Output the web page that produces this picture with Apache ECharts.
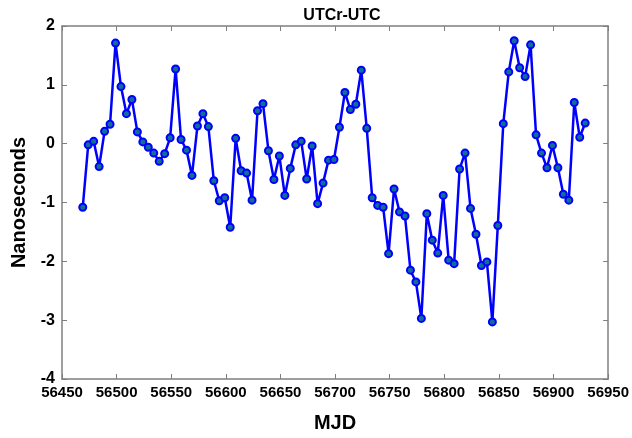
<!DOCTYPE html>
<html>
<head>
<meta charset="utf-8">
<style>
  html, body { margin: 0; padding: 0; background: #fff; }
  #chart { width: 632px; height: 438px; }
</style>
<script src="https://cdn.jsdelivr.net/npm/echarts@6/dist/echarts.min.js"></script>
</head>
<body>
<div id="chart"></div>
<script>
// MJD of each measurement
const mjd = [
  56469, 56474, 56479, 56484, 56489, 56494, 56499, 56504, 56509, 56514,
  56519, 56524, 56529, 56534, 56539, 56544, 56549, 56554, 56559, 56564,
  56569, 56574, 56579, 56584, 56589, 56594, 56599, 56604, 56609, 56614,
  56619, 56624, 56629, 56634, 56639, 56644, 56649, 56654, 56659, 56664,
  56669, 56674, 56679, 56684, 56689, 56694, 56699, 56704, 56709, 56714,
  56719, 56724, 56729, 56734, 56739, 56744, 56749, 56754, 56759, 56764,
  56769, 56774, 56779, 56784, 56789, 56794, 56799, 56804, 56809, 56814,
  56819, 56824, 56829, 56834, 56839, 56844, 56849, 56854, 56859, 56864,
  56869, 56874, 56879, 56884, 56889, 56894, 56899, 56904, 56909, 56914,
  56919, 56924, 56929
];

// UTCr-UTC in ns
const utcrMinusUtc = [
  -1.08, -0.02, 0.04, -0.39, 0.21, 0.33, 1.71, 0.97, 0.51, 0.75,
  0.20, 0.03, -0.06, -0.16, -0.30, -0.17, 0.10, 1.27, 0.07, -0.11,
  -0.54, 0.30, 0.51, 0.29, -0.63, -0.97, -0.92, -1.42, 0.09, -0.46,
  -0.50, -0.96, 0.56, 0.68, -0.12, -0.61, -0.21, -0.88, -0.42, -0.02,
  0.04, -0.60, -0.04, -1.02, -0.67, -0.28, -0.27, 0.28, 0.87, 0.58,
  0.67, 1.25, 0.26, -0.92, -1.05, -1.08, -1.87, -0.77, -1.16, -1.23,
  -2.15, -2.35, -2.97, -1.19, -1.64, -1.86, -0.88, -1.98, -2.04, -0.43,
  -0.16, -1.10, -1.54, -2.07, -2.01, -3.03, -1.39, 0.34, 1.22, 1.75,
  1.29, 1.14, 1.68, 0.15, -0.16, -0.41, -0.03, -0.41, -0.86, -0.96,
  0.70, 0.11, 0.35
];

const xMin = 56450, xMax = 56950, xStep = 50;
const yMin = -4, yMax = 2, yStep = 1;

const points = mjd.map((d, i) => [d, utcrMinusUtc[i]]);

const frame = { onZero: false, lineStyle: { color: '#7f7f7f', width: 1.5 } };
const tickIn = { show: true, inside: true, length: 5, lineStyle: { color: '#7f7f7f', width: 1 } };
const font = 'Liberation Sans, Arial, sans-serif';

const chart = echarts.init(document.getElementById('chart'), null, { renderer: 'canvas' });
chart.setOption({
  animation: false,
  backgroundColor: '#fff',
  title: {
    text: 'UTCr-UTC',
    left: 337, top: 3, textAlign: 'center',
    textStyle: { fontFamily: font, fontWeight: 'bold', fontSize: 16, color: '#000' }
  },
  grid: { left: 62, right: 20, top: 26, bottom: 52 },
  xAxis: [{
    type: 'value', min: xMin, max: xMax, interval: xStep,
    name: 'MJD', nameLocation: 'middle', nameGap: 34,
    nameTextStyle: { fontFamily: font, fontWeight: 'bold', fontSize: 20, color: '#000' },
    axisLine: frame, axisTick: tickIn, splitLine: { show: false },
    axisLabel: {
      fontFamily: font, fontWeight: 'bold', fontSize: 15, color: '#000', margin: 6,
      formatter: (v) => String(v)
    }
  }, {
    type: 'value', position: 'top', min: xMin, max: xMax, interval: xStep,
    axisLine: frame, axisTick: tickIn, axisLabel: { show: false }, splitLine: { show: false }
  }],
  yAxis: [{
    type: 'value', min: yMin, max: yMax, interval: yStep,
    name: 'Nanoseconds', nameLocation: 'middle', nameGap: 30,
    nameTextStyle: { fontFamily: font, fontWeight: 'bold', fontSize: 20, color: '#000' },
    axisLine: frame, axisTick: tickIn, splitLine: { show: false },
    axisLabel: { fontFamily: font, fontWeight: 'bold', fontSize: 16, color: '#000', margin: 7 }
  }, {
    type: 'value', position: 'right', min: yMin, max: yMax, interval: yStep,
    axisLine: frame, axisTick: tickIn, axisLabel: { show: false }, splitLine: { show: false }
  }],
  series: [{
    type: 'line',
    data: points,
    symbol: 'circle',
    symbolSize: 7,
    showAllSymbol: true,
    lineStyle: { color: '#0000ff', width: 2.5 },
    itemStyle: { color: '#0e6f95', borderColor: '#0000ff', borderWidth: 2 }
  }]
});
</script>
</body>
</html>
